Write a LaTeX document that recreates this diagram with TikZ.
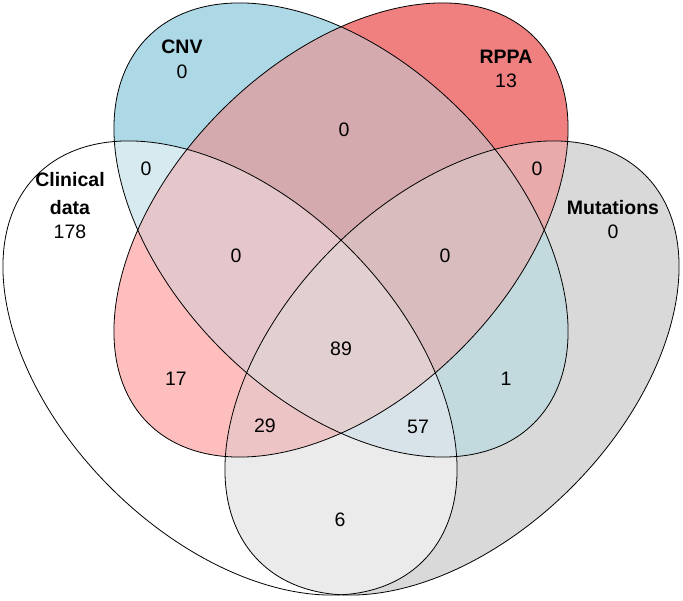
\documentclass[tikz,border=0pt]{standalone}
\usepackage{fontspec}
\setmainfont{Liberation Sans}
\definecolor{cA}{RGB}{255,255,255}
\definecolor{cB}{RGB}{173,216,230}
\definecolor{cC}{RGB}{240,128,128}
\definecolor{cD}{RGB}{217,217,217}
\definecolor{cAB}{RGB}{214,234,240}
\definecolor{cAC}{RGB}{254,190,190}
\definecolor{cAD}{RGB}{235,235,235}
\definecolor{cBC}{RGB}{213,170,174}
\definecolor{cBD}{RGB}{194,218,222}
\definecolor{cCD}{RGB}{232,170,170}
\definecolor{cABC}{RGB}{229,199,203}
\definecolor{cABD}{RGB}{216,227,233}
\definecolor{cACD}{RGB}{237,196,198}
\definecolor{cBCD}{RGB}{216,188,190}
\definecolor{cABCD}{RGB}{226,207,208}
% ellipse paths: center x, center y, major-axis angle
\newcommand\vellpath[3]{\pgfpathellipse{\pgfpoint{#1pt}{#2pt}}{\pgfpointpolar{#3}{273pt}}{\pgfpointpolar{#3+90}{169pt}}}
\newcommand\vinside[3]{\vellpath{#1}{#2}{#3}\pgfsetnonzerorule\pgfusepath{clip}}
\newcommand\voutside[3]{\pgfpathrectangle{\pgfpoint{-200pt}{-200pt}}{\pgfpoint{1100pt}{1000pt}}\vellpath{#1}{#2}{#3}\pgfseteorule\pgfusepath{clip}\pgfsetnonzerorule}
\newcommand\vinA{\vinside{230}{232}{-45}}
\newcommand\vinB{\vinside{341}{370}{-45}}
\newcommand\vinC{\vinside{341}{370}{45}}
\newcommand\vinD{\vinside{452}{232}{45}}
\newcommand\voutA{\voutside{230}{232}{-45}}
\newcommand\voutB{\voutside{341}{370}{-45}}
\newcommand\voutC{\voutside{341}{370}{45}}
\newcommand\voutD{\voutside{452}{232}{45}}
\newcommand\regfill[2]{\begin{scope}#2\fill[#1] (0,0) rectangle (683,600);\end{scope}}
\begin{document}
\begin{tikzpicture}[x=1pt,y=1pt,
  outline/.style={draw=black, line width=0.8pt},
  numlbl/.style={inner sep=0pt, font=\fontsize{19.5}{24}\selectfont},
  setlbl/.style={inner sep=0pt, font=\fontsize{19.5}{24}\selectfont\bfseries}]
\useasboundingbox (0,0) rectangle (683,600);
% region fills
\regfill{cA}{\vinA\voutB\voutC\voutD}
\regfill{cB}{\voutA\vinB\voutC\voutD}
\regfill{cC}{\voutA\voutB\vinC\voutD}
\regfill{cD}{\voutA\voutB\voutC\vinD}
\regfill{cAB}{\vinA\vinB\voutC\voutD}
\regfill{cAC}{\vinA\voutB\vinC\voutD}
\regfill{cAD}{\vinA\voutB\voutC\vinD}
\regfill{cBC}{\voutA\vinB\vinC\voutD}
\regfill{cBD}{\voutA\vinB\voutC\vinD}
\regfill{cCD}{\voutA\voutB\vinC\vinD}
\regfill{cABC}{\vinA\vinB\vinC\voutD}
\regfill{cABD}{\vinA\vinB\voutC\vinD}
\regfill{cACD}{\vinA\voutB\vinC\vinD}
\regfill{cBCD}{\voutA\vinB\vinC\vinD}
\regfill{cABCD}{\vinA\vinB\vinC\vinD}
% outlines
\draw[outline, rotate around={-45:(230,232)}] (230,232) ellipse [x radius=273, y radius=169];
\draw[outline, rotate around={-45:(341,370)}] (341,370) ellipse [x radius=273, y radius=169];
\draw[outline, rotate around={45:(341,370)}] (341,370) ellipse [x radius=273, y radius=169];
\draw[outline, rotate around={45:(452,232)}] (452,232) ellipse [x radius=273, y radius=169];
% set labels
\node[setlbl] (tClin) at (70,420) {Clinical};
\node[setlbl] (tData) at (70,392) {data};
\node[numlbl] (nA) at (70,368) {178};
\node[setlbl] (tCNV) at (182,553) {CNV};
\node[numlbl] (nB) at (182,528) {0};
\node[setlbl] (tRPPA) at (506,543) {RPPA};
\node[numlbl] (nC) at (506,519) {13};
\node[setlbl] (tMut) at (613,392) {Mutations};
\node[numlbl] (nD) at (613,368) {0};
% intersection counts
\node[numlbl] (nBC) at (344,470) {0};
\node[numlbl] (nAB) at (146,431) {0};
\node[numlbl] (nCD) at (537,431) {0};
\node[numlbl] (nABC) at (236,344) {0};
\node[numlbl] (nBCD) at (445,344) {0};
\node[numlbl] (nABCD) at (341,251) {89};
\node[numlbl] (nAC) at (176,221) {17};
\node[numlbl] (nBD) at (506,221) {1};
\node[numlbl] (nACD) at (265,174) {29};
\node[numlbl] (nABD) at (418,173) {57};
\node[numlbl] (nAD) at (340,80) {6};
\end{tikzpicture}
\end{document}
